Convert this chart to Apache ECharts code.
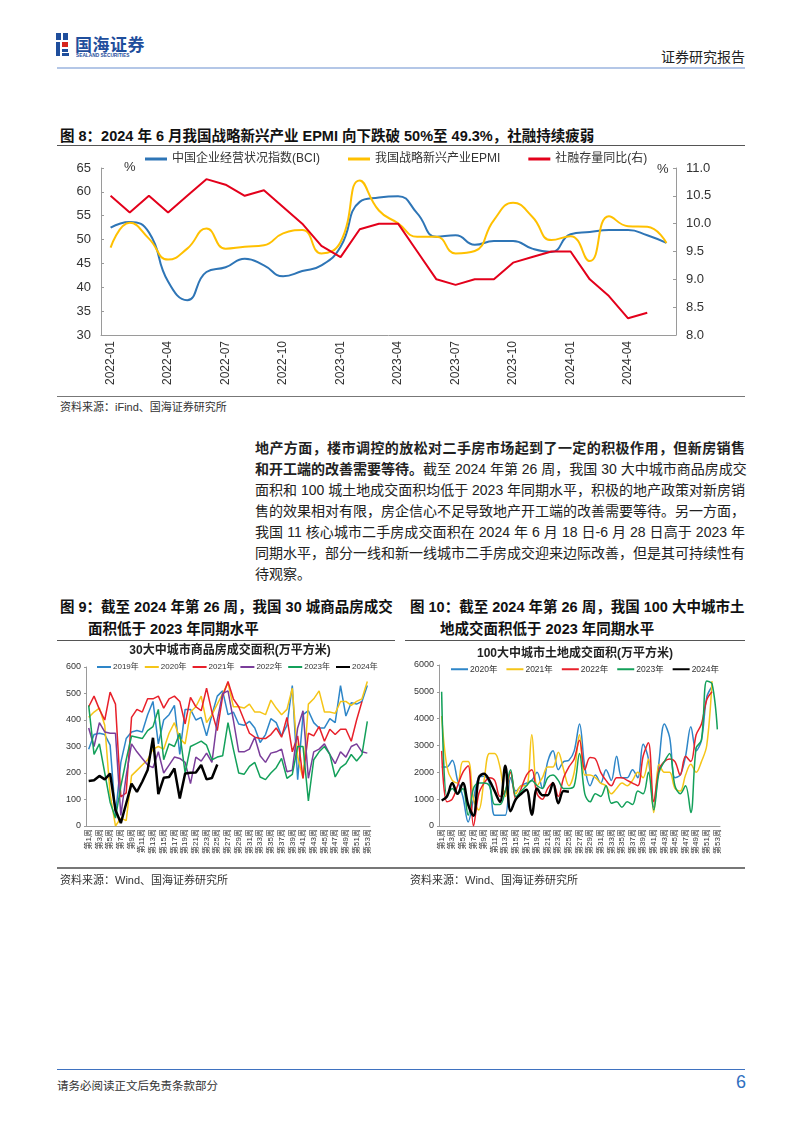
<!DOCTYPE html>
<html><head><meta charset="utf-8">
<script src="https://cdn.jsdelivr.net/npm/echarts@6/dist/echarts.min.js"></script>
<style>
html,body{margin:0;padding:0;background:#fff;}
body{width:802px;height:1133px;position:relative;overflow:hidden;font-family:"Liberation Sans","Noto Sans CJK SC",sans-serif;color:#222;}
.abs{position:absolute;}
.hl{position:absolute;height:0;}
.para div{height:21px;line-height:21px;text-align:justify;text-align-last:justify;white-space:nowrap;}
.para div.last{text-align-last:left;}
.ttl{font-weight:bold;font-size:14.5px;white-space:nowrap;color:#111;}
.src{font-size:11px;color:#333;white-space:nowrap;}
</style></head>
<body>
<!-- header -->
<div class="abs" style="left:56px;top:33px;width:5px;height:7px;background:#1f4e9c"></div>
<div class="abs" style="left:63px;top:33px;width:5px;height:7px;background:#1f4e9c"></div>
<div class="abs" style="left:56px;top:42px;width:4px;height:14px;background:#1f4e9c"></div>
<div class="abs" style="left:62px;top:42px;width:6px;height:5px;background:#d7261e"></div>
<div class="abs" style="left:62px;top:49px;width:6px;height:3px;background:#1f4e9c"></div>
<div class="abs" style="left:62px;top:53px;width:7px;height:3px;background:#1f4e9c"></div>
<div class="abs" style="left:75px;top:31px;font-size:17px;font-weight:bold;color:#1f4e9c;letter-spacing:0.5px;white-space:nowrap">国海证券</div>
<div class="abs" style="left:76px;top:53px;font-size:6px;line-height:6px;color:#1f4e9c;white-space:nowrap;font-weight:bold;transform:scale(0.8);transform-origin:0 0">SEALAND SECURITIES</div>
<div class="abs" style="left:661px;top:46px;font-size:14px;color:#222;white-space:nowrap">证券研究报告</div>
<div class="hl" style="left:57px;top:67px;width:688px;border-top:2px solid #b4c7e7"></div>

<!-- figure 8 -->
<div class="abs ttl" style="left:60px;top:124px">图 8：2024 年 6 月我国战略新兴产业 EPMI 向下跌破 50%至 49.3%，社融持续疲弱</div>
<div class="hl" style="left:57px;top:145px;width:688px;border-top:1.5px solid #555"></div>
<div id="c8" class="abs" style="left:40px;top:146px;width:720px;height:250px"></div>
<div class="hl" style="left:57px;top:396px;width:688px;border-top:1.5px solid #777"></div>
<div class="abs src" style="left:60px;top:398px">资料来源：iFind、国海证券研究所</div>

<!-- paragraph -->
<div class="abs para" style="left:255px;top:438px;width:490px;font-size:14px;color:#222">
<div><b>地产方面，楼市调控的放松对二手房市场起到了一定的积极作用，但新房销售</b></div>
<div><b>和开工端的改善需要等待。</b>截至 2024 年第 26 周，我国 30 大中城市商品房成交</div>
<div>面积和 100 城土地成交面积均低于 2023 年同期水平，积极的地产政策对新房销</div>
<div>售的效果相对有限，房企信心不足导致地产开工端的改善需要等待。另一方面，</div>
<div>我国 11 核心城市二手房成交面积在 2024 年 6 月 18 日-6 月 28 日高于 2023 年</div>
<div>同期水平，部分一线和新一线城市二手房成交迎来边际改善，但是其可持续性有</div>
<div class="last">待观察。</div>
</div>

<!-- figure 9 / 10 titles -->
<div class="abs ttl" style="left:60px;top:595px">图 9：截至 2024 年第 26 周，我国 30 城商品房成交</div>
<div class="abs ttl" style="left:88px;top:617px">面积低于 2023 年同期水平</div>
<div class="hl" style="left:57px;top:640px;width:338px;border-top:1.5px solid #555"></div>
<div class="abs ttl" style="left:410px;top:595px">图 10：截至 2024 年第 26 周，我国 100 大中城市土</div>
<div class="abs ttl" style="left:440px;top:617px">地成交面积低于 2023 年同期水平</div>
<div class="hl" style="left:405px;top:640px;width:340px;border-top:1.5px solid #555"></div>
<div id="c9" class="abs" style="left:50px;top:642px;width:330px;height:226px"></div>
<div id="c10" class="abs" style="left:400px;top:642px;width:330px;height:226px"></div>
<div class="hl" style="left:57px;top:867px;width:688px;border-top:2px solid #777"></div>
<div class="abs src" style="left:60px;top:871px">资料来源：Wind、国海证券研究所</div>
<div class="abs src" style="left:410px;top:871px">资料来源：Wind、国海证券研究所</div>

<!-- footer -->
<div class="hl" style="left:57px;top:1069px;width:688px;border-top:1.5px solid #3f72c0"></div>
<div class="abs src" style="left:57px;top:1077px;font-size:11.5px">请务必阅读正文后免责条款部分</div>
<div class="abs" style="left:736px;top:1072px;font-size:18px;color:#2f6fc0">6</div>

<script>
// ---------- Figure 8 data ----------
var months8 = ['2022-01','2022-02','2022-03','2022-04','2022-05','2022-06','2022-07','2022-08','2022-09','2022-10','2022-11','2022-12',
  '2023-01','2023-02','2023-03','2023-04','2023-05','2023-06','2023-07','2023-08','2023-09','2023-10','2023-11','2023-12',
  '2024-01','2024-02','2024-03','2024-04','2024-05','2024-06'];
var bci = [52.5,53.7,51.5,41.2,37.3,43.2,44.2,46.0,44.6,42.3,43.4,44.6,48.5,57.9,58.8,59.1,55.5,50.6,50.9,48.9,49.7,49.7,48.1,47.4,51.1,51.6,52.0,52.0,50.9,49.3];
var epmi = [48.3,53.5,50.2,45.8,48.1,52.3,48.1,48.5,48.8,51.3,52.0,47.1,49.5,62.4,56.1,53.4,50.6,50.6,47.1,47.6,54.1,57.7,54.8,49.9,50.7,45.5,54.9,52.8,52.7,49.3];
var tsf = [10.5,10.2,10.5,10.2,10.5,10.8,10.7,10.5,10.6,10.3,10.0,9.6,9.4,9.9,10.0,10.0,9.5,9.0,8.9,9.0,9.0,9.3,9.4,9.5,9.5,9.0,8.7,8.3,8.4];
var names8 = ['中国企业经营状况指数(BCI)','我国战略新兴产业EPMI','社融存量同比(右)'];

// ---------- Figure 9 data (30 cities, 万平方米) ----------
var weeks = [];
for (var i = 1; i <= 53; i++) weeks.push('第' + i + '周');
var s9_2019 = [290,345,350,345,305,40,240,330,355,360,355,420,470,310,400,420,455,270,440,440,400,410,340,420,490,510,420,430,385,380,395,370,315,345,405,390,340,380,530,175,420,435,390,370,370,405,390,530,415,465,460,470,530];
var s9_2020 = [410,430,445,380,120,0,30,20,190,210,230,250,290,300,290,350,390,330,310,430,450,490,390,420,460,500,540,450,450,445,460,430,430,420,475,445,420,440,520,260,180,460,480,510,430,430,425,470,470,455,470,480,545];
var s9_2021 = [450,490,440,400,505,460,110,125,410,440,430,480,480,490,445,480,490,470,385,485,450,435,520,430,360,490,545,480,450,400,350,335,330,330,345,370,335,410,280,340,180,350,340,375,320,365,345,365,365,320,400,470,null];
var s9_2022 = [370,300,390,355,350,350,40,190,310,280,255,230,220,280,200,230,260,255,240,160,260,245,275,240,400,500,510,400,280,280,290,335,265,240,275,280,290,205,210,370,435,180,280,290,310,270,235,280,260,300,310,280,275];
var s9_2023 = [455,270,310,200,90,30,150,250,340,335,330,360,375,440,250,310,300,350,200,300,310,320,305,250,260,265,390,290,200,195,225,240,185,175,200,220,255,180,195,300,300,95,250,280,300,270,185,220,235,270,245,270,395];
var s9_2024 = [170,173,189,176,198,60,11,85,160,129,167,211,333,120,182,185,217,104,198,201,202,230,176,181,232];
var years9 = ['2019年','2020年','2021年','2022年','2023年','2024年'];

// ---------- Figure 10 data (100 cities land, 万平方米) ----------
var s10_2020 = [2200,2200,2450,1700,1100,150,1000,1800,1850,1600,400,400,400,1800,1300,1500,1600,1700,2000,1400,2400,2800,2100,2400,2450,2800,3800,2200,1500,1900,1600,2100,1700,2600,1800,1800,2100,1800,3050,2500,700,2400,3800,3300,1800,1900,2600,3700,2800,3200,4800,5200,null];
var s10_2021 = [4100,2200,1700,1600,2400,2400,1000,600,1700,2700,2700,2200,1100,2000,1200,1500,1500,3400,1500,1800,2200,2200,2750,2100,1500,2000,3400,1900,1900,1800,1600,1500,1200,1400,1600,1500,1700,2000,1800,2500,500,2300,2000,2000,1400,1300,1900,2300,2000,2400,3000,5400,null];
var s10_2022 = [2800,900,1000,1500,2000,2250,0,1200,1600,1800,1700,1100,1300,2000,1000,1400,1900,2100,1200,1000,1400,1600,1100,1800,2200,2500,3200,2100,2550,2500,2000,1700,1500,1800,1800,1700,1600,1500,2600,3100,900,2100,2400,2500,2400,1900,2600,2400,3400,3800,4700,5000,null];
var s10_2023 = [5000,1100,1400,1200,1400,400,1400,1600,1600,1500,800,800,1300,2100,1100,1300,1500,1700,1500,1400,1800,1900,1700,1400,1400,1500,2700,1200,900,1200,1100,1500,850,900,700,900,800,1300,1200,2000,600,2000,2400,2700,1500,1200,1500,500,2900,3200,5400,5300,3600];
var s10_2024 = [950,1100,1600,1200,1600,800,380,1800,1950,1700,1300,900,2250,550,1000,1200,1350,420,1400,1150,1150,1600,850,1300,1280];
var years10 = ['2020年','2021年','2022年','2023年','2024年'];

var FONT = '"Liberation Sans","Noto Sans CJK SC",sans-serif';
var axisGray = '#9a9a9a';
function plain(v){ return String(v); }

// ---------- Chart 8 ----------
var c8 = echarts.init(document.getElementById('c8'));
c8.setOption({
  animation:false,
  textStyle:{fontFamily:FONT},
  legend:{left:100,top:2,itemWidth:22,itemHeight:3,itemGap:28,icon:'rect',
    textStyle:{fontSize:12,color:'#333',fontFamily:FONT},data:names8},
  grid:{left:61,right:84,top:22,bottom:61},
  xAxis:{type:'category',data:months8,boundaryGap:true,
    axisLine:{lineStyle:{color:axisGray}},
    axisTick:{interval:2,length:4,lineStyle:{color:axisGray}},
    axisLabel:{interval:2,rotate:90,fontSize:12,color:'#333',margin:6}},
  yAxis:[
    {type:'value',min:30,max:65,interval:5,splitLine:{show:false},
     axisLine:{show:true,lineStyle:{color:axisGray}},axisTick:{show:true,inside:true,length:3,lineStyle:{color:axisGray}},
     axisLabel:{fontSize:13,color:'#333',margin:10}},
    {type:'value',min:8,max:11,interval:0.5,splitLine:{show:false},
     axisLine:{show:true,lineStyle:{color:axisGray}},axisTick:{show:true,inside:true,length:3,lineStyle:{color:axisGray}},
     axisLabel:{fontSize:13,color:'#333',margin:10,formatter:function(v){return v.toFixed(1);}}}
  ],
  graphic:[
    {type:'text',left:84,top:15,style:{text:'%',fontSize:13,fill:'#333',fontFamily:FONT}},
    {type:'text',left:617,top:17,style:{text:'%',fontSize:13,fill:'#333',fontFamily:FONT}}
  ],
  series:[
    {name:names8[0],type:'line',data:bci,smooth:0.5,showSymbol:false,lineStyle:{width:2,color:'#2e75b6'},itemStyle:{color:'#2e75b6'}},
    {name:names8[1],type:'line',data:epmi,smooth:0.5,showSymbol:false,lineStyle:{width:2,color:'#ffc000'},itemStyle:{color:'#ffc000'}},
    {name:names8[2],type:'line',yAxisIndex:1,data:tsf,smooth:false,showSymbol:false,lineStyle:{width:2,color:'#e3001b'},itemStyle:{color:'#e3001b'}}
  ]
});

// ---------- Chart 9 ----------
var cols9 = ['#2e86c8','#f5c518','#e8202a','#7a3d9a','#13a05a','#000000'];
var data9 = [s9_2019,s9_2020,s9_2021,s9_2022,s9_2023,s9_2024];
var c9 = echarts.init(document.getElementById('c9'));
c9.setOption({
  animation:false,
  textStyle:{fontFamily:FONT},
  graphic:[{type:'text',x:180,y:3,style:{text:'30大中城市商品房成交面积(万平方米)',fontSize:12,fontWeight:'bold',fill:'#222',textAlign:'center',fontFamily:FONT}}],
  legend:{left:42,top:16,width:400,itemWidth:14,itemHeight:2,itemGap:6,icon:'rect',
    textStyle:{fontSize:8,color:'#333',padding:[0,0,0,-3]},data:years9},
  grid:{left:36,right:10,top:25,bottom:42},
  xAxis:{type:'category',data:weeks,boundaryGap:true,
    axisLine:{lineStyle:{color:axisGray}},axisTick:{show:false},
    axisLabel:{interval:1,rotate:90,fontSize:8,color:'#333',margin:3}},
  yAxis:{type:'value',min:0,max:600,interval:100,splitLine:{show:false},
    axisLine:{show:true,lineStyle:{color:axisGray}},axisTick:{show:true,length:2,lineStyle:{color:axisGray}},
    axisLabel:{fontSize:9,color:'#333',margin:5,formatter:plain}},
  series:years9.map(function(n,k){
    return {name:n,type:'line',data:data9[k],showSymbol:false,connectNulls:false,
      lineStyle:{width:k===5?2.5:1.5,color:cols9[k]},itemStyle:{color:cols9[k]},z:k===5?10:2};
  })
});

// ---------- Chart 10 ----------
var cols10 = ['#2e86c8','#f5c518','#e8202a','#13a05a','#000000'];
var data10 = [s10_2020,s10_2021,s10_2022,s10_2023,s10_2024];
var c10 = echarts.init(document.getElementById('c10'));
c10.setOption({
  animation:false,
  textStyle:{fontFamily:FONT},
  graphic:[{type:'text',x:175,y:6,style:{text:'100大中城市土地成交面积(万平方米)',fontSize:12,fontWeight:'bold',fill:'#222',textAlign:'center',fontFamily:FONT}}],
  legend:{left:46,top:18,width:400,itemWidth:17,itemHeight:2,itemGap:9,icon:'rect',
    textStyle:{fontSize:8.5,color:'#333',padding:[0,0,0,-3]},data:years10},
  grid:{left:39,right:10,top:23,bottom:42},
  xAxis:{type:'category',data:weeks,boundaryGap:true,
    axisLine:{lineStyle:{color:axisGray}},axisTick:{show:false},
    axisLabel:{interval:1,rotate:90,fontSize:8,color:'#333',margin:3}},
  yAxis:{type:'value',min:0,max:6000,interval:1000,splitLine:{show:false},
    axisLine:{show:true,lineStyle:{color:axisGray}},axisTick:{show:true,length:2,lineStyle:{color:axisGray}},
    axisLabel:{fontSize:9,color:'#333',margin:5,formatter:plain}},
  series:years10.map(function(n,k){
    return {name:n,type:'line',data:data10[k],showSymbol:false,smooth:0.35,
      lineStyle:{width:k===4?2.5:1.5,color:cols10[k]},itemStyle:{color:cols10[k]},z:k===4?10:2};
  })
});
</script>
</body></html>
